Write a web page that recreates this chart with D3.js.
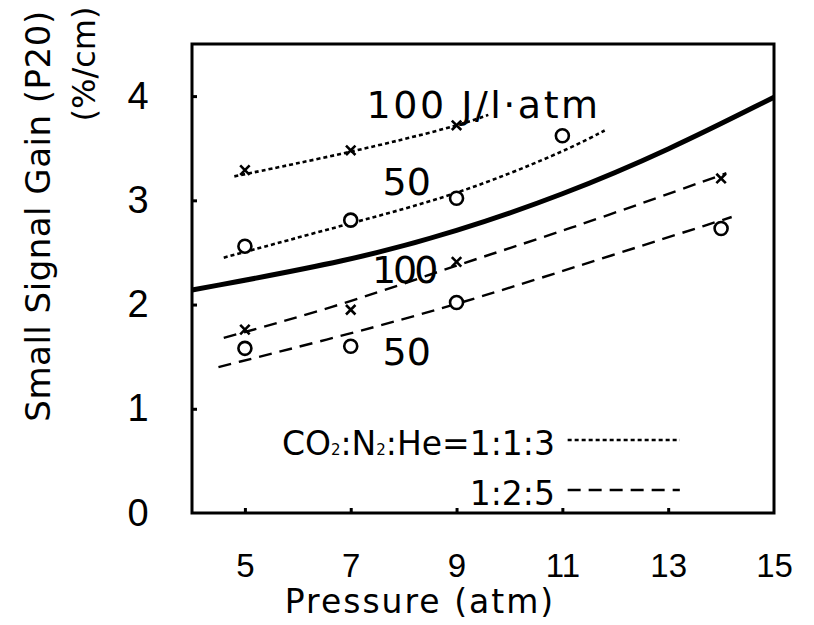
<!DOCTYPE html>
<html>
<head>
<meta charset="utf-8">
<script src="https://cdn.jsdelivr.net/npm/d3@7"></script>
<style>
  body { margin: 0; background: #fff; }
  svg { display: block; font-family: "DejaVu Sans", sans-serif; }
  .ejes path { display: none; }
  .ejes line { stroke: #000; stroke-width: 3; }
  .ejes text { fill: #000; }
</style>
</head>
<body>
<div id="graf"></div>
<script>
// x ticks (atm) and y ticks (%/cm)
const xTicks = [5, 7, 9, 11, 13, 15]
const yTicks = [0, 1, 2, 3, 4]

// measured points, CO2:N2:He = 1:1:3
const pts113_100 = [[5, 3.29], [7, 3.48], [9, 3.72]]
const pts113_50 = [[5, 2.56], [7, 2.81], [9, 3.02], [11, 3.62]]
// measured points, 1:2:5
const pts125_100 = [[5, 1.76], [7, 1.95], [9, 2.41], [14, 3.21]]
const pts125_50 = [[5, 1.58], [7, 1.60], [9, 2.02], [14, 2.73]]

// fitted curves
const fit113_100 = [[4.8, 3.23], [7, 3.46], [9, 3.71], [9.6, 3.82]]
const fit113_50 = [[4.6, 2.45], [7, 2.78], [9, 3.05], [11, 3.46], [11.8, 3.67]]
const fit125_100 = [[4.6, 1.68], [7, 2.02], [9, 2.38], [11, 2.70], [14.1, 3.26]]
const fit125_50 = [[4.5, 1.40], [7, 1.72], [9, 2.00], [11, 2.32], [14.2, 2.84]]
const theory = [[4, 2.14], [7, 2.42], [9, 2.70], [11, 3.05], [13, 3.48], [15, 3.99]]

const anchoTotal = 814
const altoTotal = 625
const margins = { left: 192, top: 44, right: 40, bottom: 112 }
const ancho = anchoTotal - margins.left - margins.right
const alto = altoTotal - margins.top - margins.bottom

const svg = d3.select("#graf")
  .append("svg")
  .attr("width", anchoTotal)
  .attr("height", altoTotal)

const g = svg.append("g")
  .attr("transform", `translate(${margins.left}, ${margins.top})`)

const x = d3.scaleLinear().domain([4, 15]).range([0, ancho])
const y = d3.scaleLinear().domain([0, 4.5]).range([alto, 0])

// axes with inward ticks
const xAxis = d3.axisBottom(x).tickValues(xTicks).tickSize(-5).tickPadding(41).tickFormat(d3.format("d"))
const yAxis = d3.axisLeft(y).tickValues(yTicks).tickSize(-5).tickPadding(42).tickFormat(d3.format("d"))

const gx = g.append("g")
  .attr("transform", `translate(0, ${alto})`)
  .attr("class", "ejes")
  .call(xAxis)
gx.selectAll("text").style("font-size", "33px")
gx.selectAll(".tick").filter((d) => d === 15).select("line").remove()

const gy = g.append("g").attr("class", "ejes").call(yAxis)
gy.selectAll("text").style("font-size", "38px").attr("text-anchor", "middle").attr("x", -54)
gy.selectAll(".tick").filter((d) => d === 0).select("line").remove()

// frame
g.append("rect")
  .attr("width", ancho)
  .attr("height", alto)
  .attr("fill", "none")
  .attr("stroke", "#000")
  .attr("stroke-width", 3)

const line = d3.line()
  .x((d) => x(d[0]))
  .y((d) => y(d[1]))
  .curve(d3.curveBasis)

const curves = [
  { data: theory, w: 5, dash: null },
  { data: fit113_100, w: 2.6, dash: "4,3" },
  { data: fit113_50, w: 2.6, dash: "4,3" },
  { data: fit125_100, w: 2.4, dash: "13,8" },
  { data: fit125_50, w: 2.4, dash: "13,8" }
]

g.selectAll(".curva")
  .data(curves)
  .enter()
  .append("path")
  .attr("class", "curva")
  .attr("d", (d) => line(d.data))
  .attr("fill", "none")
  .attr("stroke", "#000")
  .attr("stroke-width", (d) => d.w)
  .attr("stroke-dasharray", (d) => d.dash)

// circles
g.selectAll(".circ")
  .data(pts113_50.concat(pts125_50))
  .enter()
  .append("circle")
  .attr("class", "circ")
  .attr("cx", (d) => x(d[0]))
  .attr("cy", (d) => y(d[1]))
  .attr("r", 6.5)
  .attr("fill", "#fff")
  .attr("stroke", "#000")
  .attr("stroke-width", 2.6)

// crosses
const cruz = d3.symbol().type(d3.symbolX).size(60)
g.selectAll(".cruz")
  .data(pts113_100.concat(pts125_100))
  .enter()
  .append("path")
  .attr("class", "cruz")
  .attr("d", cruz)
  .attr("transform", (d) => `translate(${x(d[0])}, ${y(d[1])})`)
  .attr("fill", "none")
  .attr("stroke", "#000")
  .attr("stroke-width", 2.6)

// curve labels
const labels = [
  { t: "100 J/l·atm", px: 7.3, v: 3.79, ls: 2.5 },
  { t: "50", px: 7.6, v: 3.05, ls: 0 },
  { t: "100", px: 7.4, v: 2.21, ls: -3 },
  { t: "50", px: 7.6, v: 1.42, ls: 0 }
]
g.selectAll(".lbl")
  .data(labels)
  .enter()
  .append("text")
  .attr("class", "lbl")
  .attr("x", (d) => x(d.px))
  .attr("y", (d) => y(d.v))
  .style("font-size", "38px")
  .style("letter-spacing", (d) => d.ls + "px")
  .text((d) => d.t)

// legend
const leg = g.append("g")
const l1 = leg.append("text")
  .attr("x", x(10.86))
  .attr("y", y(0.56))
  .attr("text-anchor", "end")
  .style("font-size", "33px")
l1.append("tspan").text("CO")
l1.append("tspan").text("2").style("font-size", "15px")
l1.append("tspan").text(":N")
l1.append("tspan").text("2").style("font-size", "15px")
l1.append("tspan").text(":He=1:1:3")
leg.append("text")
  .attr("x", x(10.86))
  .attr("y", y(0.08))
  .attr("text-anchor", "end")
  .style("font-size", "33px")
  .text("1:2:5")
leg.append("line")
  .attr("x1", x(11.1)).attr("x2", x(13.22))
  .attr("y1", y(0.70)).attr("y2", y(0.70))
  .attr("stroke", "#000").attr("stroke-width", 2.6).attr("stroke-dasharray", "4,3")
leg.append("line")
  .attr("x1", x(11.1)).attr("x2", x(13.22))
  .attr("y1", y(0.22)).attr("y2", y(0.22))
  .attr("stroke", "#000").attr("stroke-width", 2.4).attr("stroke-dasharray", "13,8")

// axis titles
svg.append("text")
  .attr("x", 420)
  .attr("y", 613)
  .attr("text-anchor", "middle")
  .style("font-size", "33px")
  .style("letter-spacing", "2px")
  .text("Pressure (atm)")

svg.append("text")
  .attr("transform", "translate(50, 216) rotate(-90)")
  .attr("text-anchor", "middle")
  .style("font-size", "34px")
  .style("letter-spacing", "0.5px")
  .text("Small Signal Gain (P20)")

svg.append("text")
  .attr("transform", "translate(95, 64) rotate(-90)")
  .attr("text-anchor", "middle")
  .style("font-size", "32px")
  .text("(%/cm)")
</script>
</body>
</html>
